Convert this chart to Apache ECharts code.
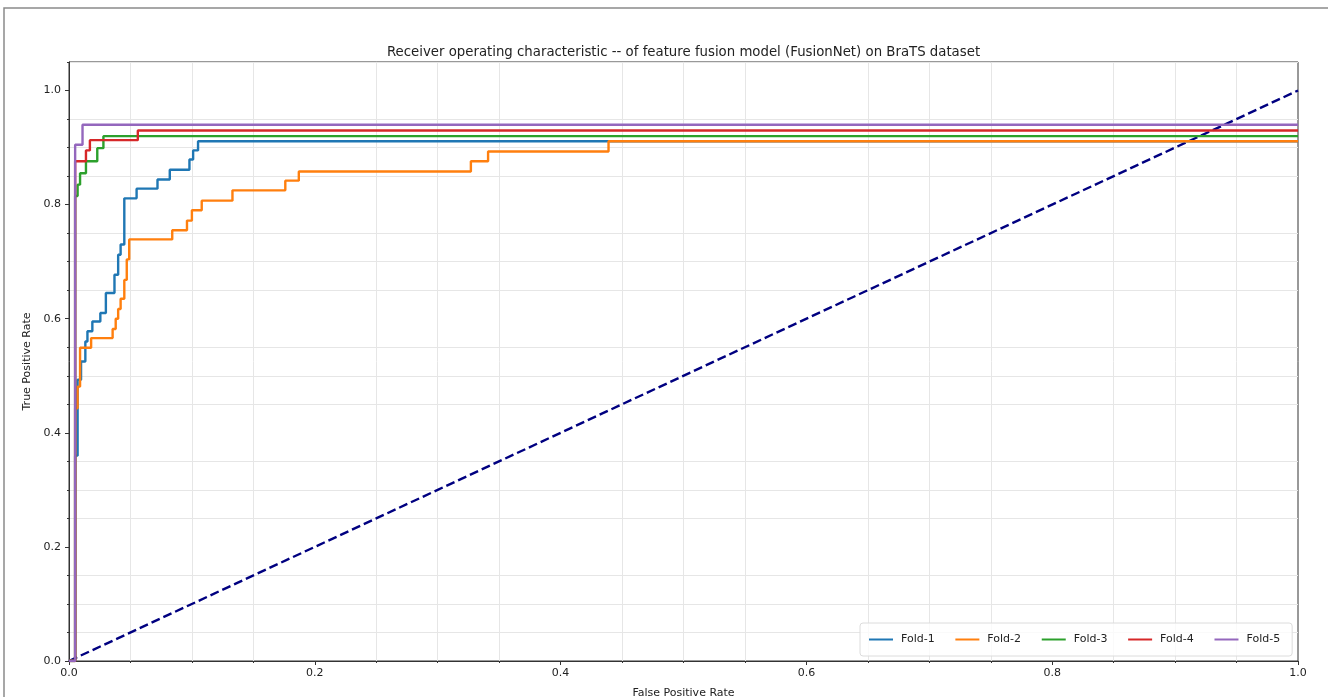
<!DOCTYPE html>
<html>
<head>
<meta charset="utf-8">
<script src="https://cdn.jsdelivr.net/npm/echarts@6/dist/echarts.min.js"></script>
<style>
html,body{margin:0;padding:0;background:#fff;}
#chart{width:1328px;height:697px;}
</style>
</head>
<body>
<div id="chart"></div>
<script>
// ---- data (ROC corner points) ----
const foldNames = ['Fold-1', 'Fold-2', 'Fold-3', 'Fold-4', 'Fold-5'];
const foldColors = ['#1f77b4', '#ff7f0e', '#2ca02c', '#d62728', '#9467bd'];

const fpr1 = [0, 0.005, 0.005, 0.007, 0.007, 0.0098, 0.0098, 0.0133, 0.0133, 0.015, 0.015, 0.019, 0.019, 0.0255, 0.0255, 0.030, 0.030, 0.037, 0.037, 0.040, 0.040, 0.042, 0.042, 0.045, 0.045, 0.055, 0.055, 0.072, 0.072, 0.082, 0.082, 0.098, 0.098, 0.101, 0.101, 0.105, 0.105, 1.0];
const tpr1 = [0, 0, 0.36, 0.36, 0.493, 0.493, 0.525, 0.525, 0.560, 0.560, 0.578, 0.578, 0.595, 0.595, 0.610, 0.610, 0.645, 0.645, 0.677, 0.677, 0.712, 0.712, 0.730, 0.730, 0.811, 0.811, 0.828, 0.828, 0.844, 0.844, 0.861, 0.861, 0.879, 0.879, 0.895, 0.895, 0.911, 0.911];

const fpr2 = [0, 0.005, 0.005, 0.007, 0.007, 0.009, 0.009, 0.018, 0.018, 0.0355, 0.0355, 0.038, 0.038, 0.040, 0.040, 0.042, 0.042, 0.045, 0.045, 0.047, 0.047, 0.049, 0.049, 0.084, 0.084, 0.096, 0.096, 0.100, 0.100, 0.108, 0.108, 0.133, 0.133, 0.176, 0.176, 0.187, 0.187, 0.327, 0.327, 0.341, 0.341, 0.439, 0.439, 1.0];
const tpr2 = [0, 0, 0.443, 0.443, 0.481, 0.481, 0.549, 0.549, 0.566, 0.566, 0.582, 0.582, 0.600, 0.600, 0.617, 0.617, 0.635, 0.635, 0.668, 0.668, 0.704, 0.704, 0.739, 0.739, 0.755, 0.755, 0.772, 0.772, 0.790, 0.790, 0.807, 0.807, 0.825, 0.825, 0.842, 0.842, 0.858, 0.858, 0.876, 0.876, 0.893, 0.893, 0.911, 0.911];

const fpr3 = [0, 0.005, 0.005, 0.007, 0.007, 0.009, 0.009, 0.0138, 0.0138, 0.023, 0.023, 0.028, 0.028, 1.0];
const tpr3 = [0, 0, 0.815, 0.815, 0.835, 0.835, 0.855, 0.855, 0.876, 0.876, 0.899, 0.899, 0.920, 0.920];

const fpr4 = [0, 0.005, 0.005, 0.0138, 0.0138, 0.017, 0.017, 0.056, 0.056, 1.0];
const tpr4 = [0, 0, 0.876, 0.876, 0.895, 0.895, 0.913, 0.913, 0.930, 0.930];

const fpr5 = [0, 0.005, 0.005, 0.011, 0.011, 1.0];
const tpr5 = [0, 0, 0.905, 0.905, 0.940, 0.940];

const chanceX = [0, 1];
const chanceY = [0, 1];

const xTickLabels = [0, 0.2, 0.4, 0.6, 0.8, 1.0];
const yTickLabels = [0, 0.2, 0.4, 0.6, 0.8, 1.0];

const titleText = 'Receiver operating characteristic -- of feature fusion model (FusionNet) on BraTS dataset';

// ---- build ----
const FONT = 'DejaVu Sans';
const fprs = [fpr1, fpr2, fpr3, fpr4, fpr5];
const tprs = [tpr1, tpr2, tpr3, tpr4, tpr5];
const zip = (a, b) => a.map((v, i) => [v, b[i]]);
const gridColor = '#e6e6e6';
const axisColor = '#333';

const series = foldNames.map((name, i) => ({
  name: name,
  type: 'line',
  data: zip(fprs[i], tprs[i]),
  showSymbol: false,
  symbol: 'none',
  lineStyle: { color: foldColors[i], width: 2.4 },
  itemStyle: { color: foldColors[i] },
  z: 3 + i,
  animation: false
}));
series.push({
  name: 'chance',
  type: 'line',
  data: zip(chanceX, chanceY),
  showSymbol: false,
  symbol: 'none',
  lineStyle: { color: '#000080', width: 2.4, type: [9, 4] },
  z: 2,
  animation: false
});

const chart = echarts.init(document.getElementById('chart'), null, { renderer: 'canvas' });
chart.setOption({
  backgroundColor: '#fff',
  animation: false,
  textStyle: { fontFamily: FONT },
  title: {
    text: titleText,
    left: 683.5,
    textAlign: 'center',
    top: 46,
    padding: 0,
    textStyle: { fontFamily: FONT, fontSize: 13.3, fontWeight: 'normal', color: '#222' }
  },
  grid: {
    left: 69, top: 62, width: 1229, height: 599,
    containLabel: false,
    outerBoundsMode: 'none',
    show: true, borderColor: axisColor, borderWidth: 1, backgroundColor: 'transparent'
  },
  legend: {
    data: foldNames,
    left: 860, top: 623,
    orient: 'horizontal',
    icon: 'rect',
    itemWidth: 24, itemHeight: 2,
    itemGap: 20.7,
    padding: [11, 12, 11, 9],
    backgroundColor: 'rgba(255,255,255,0.8)',
    borderColor: '#dcdcdc', borderWidth: 1, borderRadius: 3,
    textStyle: { fontFamily: FONT, fontSize: 11, color: '#222', padding: [0, 0, 0, 3] }
  },
  xAxis: {
    type: 'value', min: 0, max: 1, interval: 0.2,
    name: 'False Positive Rate', nameLocation: 'middle', nameGap: 27,
    nameTextStyle: { fontFamily: FONT, fontSize: 11, color: '#222' },
    axisLine: { show: true, lineStyle: { color: axisColor, width: 1 } },
    axisTick: { show: true, length: 4, lineStyle: { color: axisColor } },
    minorTick: { show: true, splitNumber: 4, length: 2, lineStyle: { color: axisColor } },
    splitLine: { show: false },
    minorSplitLine: { show: true, lineStyle: { color: gridColor, width: 1 } },
    axisLabel: {
      margin: 7, fontFamily: FONT, fontSize: 11, color: '#222',
      customValues: xTickLabels,
      formatter: v => v.toFixed(1)
    }
  },
  yAxis: [
    {
      type: 'value', min: 0, max: 1.05, interval: 0.05,
      name: 'True Positive Rate', nameLocation: 'middle', nameGap: 30,
      nameTextStyle: { fontFamily: FONT, fontSize: 11, color: '#222' },
      axisLine: { show: true, lineStyle: { color: axisColor, width: 1 } },
      axisTick: { show: true, length: 2, lineStyle: { color: axisColor } },
      splitLine: { show: true, lineStyle: { color: ['rgba(0,0,0,0)', gridColor, gridColor, gridColor], width: 1 } },
      axisLabel: {
        margin: 8, fontFamily: FONT, fontSize: 11, color: '#222',
        customValues: yTickLabels,
        formatter: v => v.toFixed(1)
      }
    },
    {
      type: 'value', min: 0, max: 1.05, position: 'left',
      axisLine: { show: false },
      axisTick: { show: true, length: 4, customValues: yTickLabels, lineStyle: { color: axisColor } },
      axisLabel: { show: false },
      splitLine: { show: false }
    }
  ],
  graphic: [{
    type: 'rect', silent: true, z: 100,
    shape: { x: 4, y: 8, width: 1340, height: 720 },
    style: { fill: 'none', stroke: '#8a8a8a', lineWidth: 1.5 }
  }],
  series: series
});
</script>
</body>
</html>
